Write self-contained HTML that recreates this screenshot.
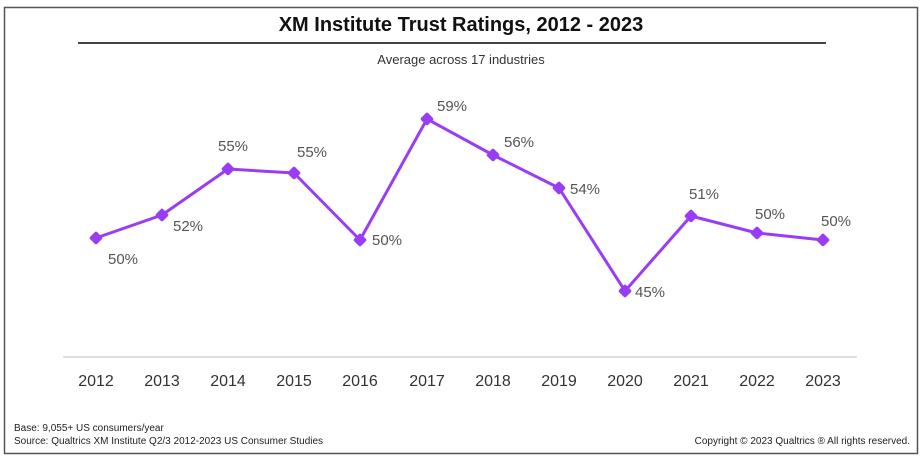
<!DOCTYPE html>
<html><head><meta charset="utf-8"><style>
html,body{margin:0;padding:0;background:#fff;}
</style></head><body>
<svg width="922" height="460" xmlns="http://www.w3.org/2000/svg" font-family="Liberation Sans, sans-serif">
<rect x="4.5" y="7.5" width="913" height="446" fill="#fff" stroke="#555" stroke-width="1.5"/>
<text x="461" y="31" text-anchor="middle" font-size="20" font-weight="bold" fill="#111">XM Institute Trust Ratings, 2012 - 2023</text>
<line x1="78" y1="43" x2="826" y2="43" stroke="#444" stroke-width="2"/>
<text x="461" y="64" text-anchor="middle" font-size="13" fill="#333">Average across 17 industries</text>
<line x1="63" y1="357" x2="857" y2="357" stroke="#ddd" stroke-width="2"/>
<g font-size="16" fill="#333" text-anchor="middle">
<text x="96" y="386">2012</text><text x="162" y="386">2013</text><text x="228" y="386">2014</text><text x="294" y="386">2015</text><text x="360" y="386">2016</text><text x="427" y="386">2017</text><text x="493" y="386">2018</text><text x="559" y="386">2019</text><text x="625" y="386">2020</text><text x="691" y="386">2021</text><text x="757" y="386">2022</text><text x="823" y="386">2023</text>
</g>
<polyline fill="none" stroke="#9b3cf5" stroke-width="3" stroke-linejoin="round" points="96,238 162,215 228,169 294,173 360,240 427,119 493,155 559,188 625,291 691,216 757,233 823,240"/>
<g fill="#9b3cf5">
<rect x="-5" y="-5" width="10" height="10" rx="2" transform="translate(96,238) rotate(45)"/>
<rect x="-5" y="-5" width="10" height="10" rx="2" transform="translate(162,215) rotate(45)"/>
<rect x="-5" y="-5" width="10" height="10" rx="2" transform="translate(228,169) rotate(45)"/>
<rect x="-5" y="-5" width="10" height="10" rx="2" transform="translate(294,173) rotate(45)"/>
<rect x="-5" y="-5" width="10" height="10" rx="2" transform="translate(360,240) rotate(45)"/>
<rect x="-5" y="-5" width="10" height="10" rx="2" transform="translate(427,119) rotate(45)"/>
<rect x="-5" y="-5" width="10" height="10" rx="2" transform="translate(493,155) rotate(45)"/>
<rect x="-5" y="-5" width="10" height="10" rx="2" transform="translate(559,188) rotate(45)"/>
<rect x="-5" y="-5" width="10" height="10" rx="2" transform="translate(625,291) rotate(45)"/>
<rect x="-5" y="-5" width="10" height="10" rx="2" transform="translate(691,216) rotate(45)"/>
<rect x="-5" y="-5" width="10" height="10" rx="2" transform="translate(757,233) rotate(45)"/>
<rect x="-5" y="-5" width="10" height="10" rx="2" transform="translate(823,240) rotate(45)"/>
</g>
<g font-size="15" fill="#555" text-anchor="middle">
<text x="123" y="264">50%</text><text x="188" y="231">52%</text><text x="233" y="151">55%</text><text x="312" y="157">55%</text><text x="387" y="245">50%</text><text x="452" y="111">59%</text><text x="519" y="147">56%</text><text x="585" y="194">54%</text><text x="650" y="297">45%</text><text x="704" y="199">51%</text><text x="770" y="219">50%</text><text x="836" y="226">50%</text>
</g>
<text x="14" y="431" font-size="10" fill="#222">Base: 9,055+ US consumers/year</text>
<text x="14" y="444" font-size="10" fill="#222">Source: Qualtrics XM Institute Q2/3 2012-2023 US Consumer Studies</text>
<text x="910" y="444" font-size="10" fill="#222" text-anchor="end">Copyright © 2023 Qualtrics ® All rights reserved.</text>
</svg>
</body></html>
